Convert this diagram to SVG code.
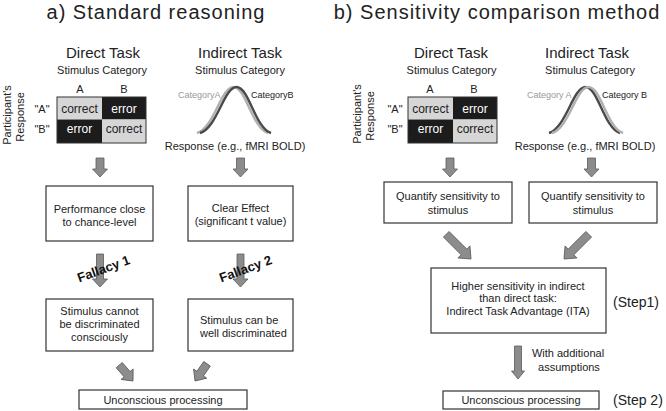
<svg xmlns="http://www.w3.org/2000/svg" width="666" height="411" viewBox="0 0 666 411">
<defs>
<style>
text{font-family:"Liberation Sans",Arial,sans-serif;fill:#222;}
.title{font-size:20px;letter-spacing:1px;text-anchor:middle;}
.task{font-size:15px;text-anchor:middle;}
.sub{font-size:11px;text-anchor:middle;}
.cell{font-size:12px;text-anchor:middle;}
.wt{fill:#fff;}
.lbl{font-size:11px;text-anchor:middle;}
.cat{font-size:9px;}
.box{fill:#fff;stroke:#333;stroke-width:1.2;}
.light{fill:#d6d6d6;}
.dark{fill:#1c1c1c;}
.arr{fill:#8c8c8c;stroke:#5a5a5a;stroke-width:0.8;}
.curveL{fill:none;stroke:#b0b0b0;stroke-width:2.4;}
.curveD{fill:none;stroke:#4a4a4a;stroke-width:2.4;}
.fal{font-size:13px;font-weight:bold;text-anchor:middle;fill:#111;}
.step{font-size:14px;}
</style>
<path id="sd" d="M-4,-19H4V-8H7.5L0,0L-7.5,-8H-4Z"/>
<path id="ld" d="M-3.5,-33H3.5V-8H7.5L0,0L-7.5,-8H-3.5Z"/>
<path id="dg" d="M-4,-35H4V-10H8.5L0,0L-8.5,-10H-4Z"/>
<path id="dgs" d="M-4,-21H4V-9H8L0,0L-8,-9H-4Z"/>
<path id="md" d="M-3.5,-33H3.5V-8H6.5L0,0L-6.5,-8H-3.5Z"/>
</defs>
<rect width="666" height="411" fill="#fff"/>

<g id="title-a"><text class="title" x="156" y="19">a) Standard reasoning</text></g>
<g id="title-b"><text class="title" x="497" y="19">b) Sensitivity comparison method</text></g>

<!-- Panel A: direct task -->
<g id="a-direct-task">
<text class="task" x="103" y="58">Direct Task</text>
<text class="sub" x="102" y="74">Stimulus Category</text>
<text class="lbl" x="80" y="93">A</text>
<text class="lbl" x="124" y="93">B</text>
<text class="lbl" transform="translate(11,115) rotate(-90)">Participant's</text>
<text class="lbl" transform="translate(24,117) rotate(-90)">Response</text>
<text class="lbl" x="42" y="113">"A"</text>
<text class="lbl" x="42" y="133">"B"</text>
<rect class="light" x="57" y="97" width="45" height="22.5"/>
<rect class="dark" x="102" y="97" width="44" height="22.5"/>
<rect class="dark" x="57" y="119.5" width="45" height="23.5"/>
<rect class="light" x="102" y="119.5" width="44" height="23.5"/>
<rect x="57" y="97" width="89" height="46" fill="none" stroke="#333" stroke-width="1"/>
<text class="cell" x="79.5" y="113">correct</text>
<text class="cell wt" x="124" y="113">error</text>
<text class="cell wt" x="79.5" y="133">error</text>
<text class="cell" x="124" y="133">correct</text>
</g>

<!-- Panel A: indirect task -->
<g id="a-indirect-task">
<text class="task" x="240" y="58">Indirect Task</text>
<text class="sub" x="240" y="74">Stimulus Category</text>
<path class="curveL" d="M197,133 C214,128 221,87 233.5,87 C246,87 252,128 268,133"/>
<path class="curveD" d="M200,133 C217,128 224,87 236.5,87 C249,87 255,128 271,133"/>
<text class="cat" x="178" y="98" fill="#9a9a9a" style="fill:#9a9a9a">CategoryA</text>
<text class="cat" x="251" y="98">CategoryB</text>
<text class="sub" x="235" y="150">Response (e.g., fMRI BOLD)</text>
</g>

<g id="a-perf"><rect class="box" x="46" y="186" width="107" height="55"/>
<text class="lbl" x="99.5" y="213">Performance close</text>
<text class="lbl" x="99.5" y="226">to chance-level</text></g>

<g id="a-effect"><rect class="box" x="188" y="186" width="105" height="55"/>
<text class="lbl" x="240.5" y="212">Clear Effect</text>
<text class="lbl" x="240.5" y="225">(significant t value)</text></g>

<g id="a-cannot"><rect class="box" x="46" y="299" width="107" height="52"/>
<text class="lbl" x="99.5" y="315">Stimulus cannot</text>
<text class="lbl" x="99.5" y="328">be discriminated</text>
<text class="lbl" x="99.5" y="341">consciously</text></g>

<g id="a-can"><rect class="box" x="188" y="299" width="105" height="52"/>
<text class="lbl" x="200" y="324" style="text-anchor:start">Stimulus can be</text>
<text class="lbl" x="200" y="337" style="text-anchor:start">well discriminated</text></g>

<g id="a-unconscious"><rect class="box" x="79" y="390" width="168" height="19"/>
<text class="lbl" x="163" y="404">Unconscious processing</text></g>

<!-- Panel B -->
<g id="b-direct-task">
<text class="task" x="451" y="58">Direct Task</text>
<text class="sub" x="451.5" y="74">Stimulus Category</text>
<text class="lbl" x="430" y="93">A</text>
<text class="lbl" x="474" y="93">B</text>
<text class="lbl" transform="translate(361,114) rotate(-90)">Participant's</text>
<text class="lbl" transform="translate(374,116) rotate(-90)">Response</text>
<text class="lbl" x="395" y="113">"A"</text>
<text class="lbl" x="395" y="133">"B"</text>
<rect class="light" x="408" y="97" width="45" height="22.5"/>
<rect class="dark" x="453" y="97" width="44" height="22.5"/>
<rect class="dark" x="408" y="119.5" width="45" height="23.5"/>
<rect class="light" x="453" y="119.5" width="44" height="23.5"/>
<rect x="408" y="97" width="89" height="46" fill="none" stroke="#333" stroke-width="1"/>
<text class="cell" x="430.5" y="113">correct</text>
<text class="cell wt" x="475" y="113">error</text>
<text class="cell wt" x="430.5" y="133">error</text>
<text class="cell" x="475" y="133">correct</text>
</g>

<g id="b-indirect-task">
<text class="task" x="587" y="58">Indirect Task</text>
<text class="sub" x="590" y="74">Stimulus Category</text>
<path class="curveD" d="M549,133 C566,128 573,87 585.5,87 C598,87 604,128 620,133"/>
<path class="curveL" d="M552,133 C569,128 576,87 588.5,87 C601,87 607,128 623,133"/>
<text class="cat" x="527" y="98" style="fill:#9a9a9a">Category A</text>
<text class="cat" x="602" y="98">Category B</text>
<text class="sub" x="585" y="150">Response (e.g., fMRI BOLD)</text>
</g>

<g id="b-quant-direct"><rect class="box" x="384" y="182" width="128" height="41"/>
<text class="lbl" x="448" y="200">Quantify sensitivity to</text>
<text class="lbl" x="448" y="214">stimulus</text></g>

<g id="b-quant-indirect"><rect class="box" x="529" y="182" width="128" height="41"/>
<text class="lbl" x="593" y="200">Quantify sensitivity to</text>
<text class="lbl" x="593" y="214">stimulus</text></g>

<g id="b-ita"><rect class="box" x="431" y="268" width="175" height="65"/>
<text class="lbl" x="518" y="290">Higher sensitivity in indirect</text>
<text class="lbl" x="518" y="302">than direct task:</text>
<text class="lbl" x="518" y="315">Indirect Task Advantage (ITA)</text></g>
<g id="b-step1"><text class="step" x="613" y="307">(Step1)</text></g>

<g id="b-unconscious"><rect class="box" x="443" y="391" width="156" height="18"/>
<text class="lbl" x="521" y="404">Unconscious processing</text></g>
<g id="b-step2"><text class="step" x="613" y="405">(Step 2)</text></g>

<!-- connectors -->
<g id="connectors">
<use href="#sd" class="arr" transform="translate(100,177)"/>
<use href="#sd" class="arr" transform="translate(240.5,177)"/>
<use href="#ld" class="arr" transform="translate(100,287)"/>
<use href="#ld" class="arr" transform="translate(240.5,287)"/>
<use href="#dgs" class="arr" transform="translate(133,381) rotate(-41)"/>
<use href="#dgs" class="arr" transform="translate(195,381) rotate(35)"/>
<use href="#sd" class="arr" transform="translate(450,177)"/>
<use href="#sd" class="arr" transform="translate(591.5,177)"/>
<use href="#dg" class="arr" transform="translate(471,259) rotate(-45)"/>
<use href="#dg" class="arr" transform="translate(564,259) rotate(45)"/>
<use href="#md" class="arr" transform="translate(518,379)"/>
<text class="lbl" x="568" y="357">With additional</text>
<text class="lbl" x="569" y="371">assumptions</text>
<text class="fal" transform="translate(105,273) rotate(-20)">Fallacy 1</text>
<text class="fal" transform="translate(247,273) rotate(-20)">Fallacy 2</text>
</g>
</svg>
